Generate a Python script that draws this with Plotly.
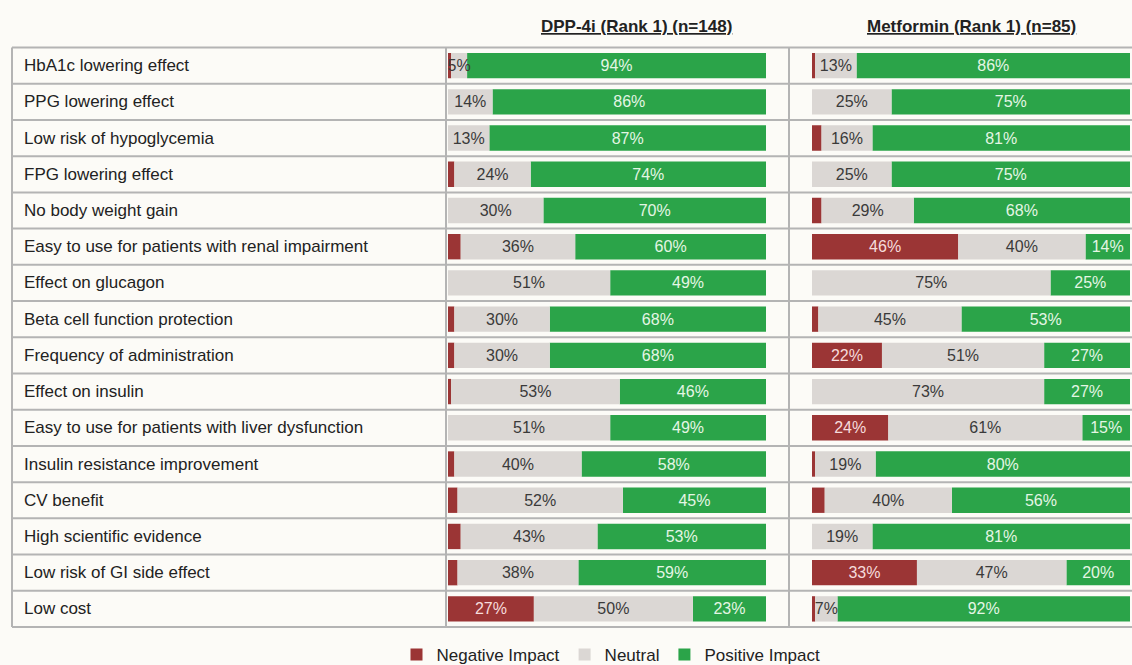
import plotly.graph_objects as go

W, H = 1132, 665

categories = [
    "HbA1c lowering effect",
    "PPG lowering effect",
    "Low risk of hypoglycemia",
    "FPG lowering effect",
    "No body weight gain",
    "Easy to use for patients with renal impairment",
    "Effect on glucagon",
    "Beta cell function protection",
    "Frequency of administration",
    "Effect on insulin",
    "Easy to use for patients with liver dysfunction",
    "Insulin resistance improvement",
    "CV benefit",
    "High scientific evidence",
    "Low risk of GI side effect",
    "Low cost",
]

dpp_negative = [1, 0, 0, 2, 0, 4, 0, 2, 2, 1, 0, 2, 3, 4, 3, 27]
dpp_neutral = [5, 14, 13, 24, 30, 36, 51, 30, 30, 53, 51, 40, 52, 43, 38, 50]
dpp_positive = [94, 86, 87, 74, 70, 60, 49, 68, 68, 46, 49, 58, 45, 53, 59, 23]

met_negative = [1, 0, 3, 0, 3, 46, 0, 2, 22, 0, 24, 1, 4, 0, 33, 1]
met_neutral = [13, 25, 16, 25, 29, 40, 75, 45, 51, 73, 61, 19, 40, 19, 47, 7]
met_positive = [86, 75, 81, 75, 68, 14, 25, 53, 27, 27, 15, 80, 56, 81, 20, 92]

panel_titles = ["DPP-4i (Rank 1) (n=148)", "Metformin (Rank 1) (n=85)"]
series_names = ["Negative Impact", "Neutral", "Positive Impact"]

colors = ["#9b3535", "#dbd7d4", "#2ba449"]
text_colors = ["#f6dcdc", "#3a3a3a", "#e4f6e4"]
bg = "#fcfbf7"
line_col = "#b4b4b4"
FONT = "Liberation Sans, Arial, sans-serif"

def px_x(x):
    return x / W

def px_y(y):
    return (H - y) / H

top_px, bot_px = 47.5, 627.0
n = len(categories)
row_h = (bot_px - top_px) / n

fig = go.Figure()

panels = [
    ("x", [dpp_negative, dpp_neutral, dpp_positive], True),
    ("x2", [met_negative, met_neutral, met_positive], False),
]
for xa, vals, show in panels:
    neg, neu, pos = vals
    bases = [
        [0] * len(neg),
        list(neg),
        [a + b for a, b in zip(neg, neu)],
    ]
    # draw order: negative, positive, neutral (so neutral labels sit on top)
    for idx in [0, 2, 1]:
        v = vals[idx]
        fig.add_trace(go.Bar(
            y=categories, x=v, base=bases[idx], orientation="h",
            name=series_names[idx],
            marker=dict(color=colors[idx], line=dict(width=0)),
            text=[f"{a}%" if a >= 5 else "" for a in v],
            textposition="inside", insidetextanchor="middle",
            constraintext="none", textangle=0,
            textfont=dict(color=text_colors[idx], size=16, family=FONT),
            xaxis=xa, yaxis="y", showlegend=show, legendgroup=series_names[idx],
            legendrank=idx + 1,
            width=0.7, hoverinfo="skip", cliponaxis=False,
        ))

shapes = []
for i in range(n + 1):
    yy = px_y(top_px + i * row_h)
    shapes.append(dict(type="line", xref="paper", yref="paper",
                       x0=px_x(12), x1=1.0, y0=yy, y1=yy,
                       line=dict(color=line_col, width=2), layer="below"))
for xv in [12, 446, 789]:
    shapes.append(dict(type="line", xref="paper", yref="paper",
                       x0=px_x(xv), x1=px_x(xv), y0=px_y(top_px), y1=px_y(bot_px),
                       line=dict(color=line_col, width=2), layer="below"))

annotations = []
for cat in categories:
    annotations.append(dict(x=px_x(22), xref="paper", y=cat, yref="y",
                            text=cat, showarrow=False, xanchor="left",
                            font=dict(size=17, color="#222222", family=FONT)))
for title, cx in zip(panel_titles, [636, 971]):
    annotations.append(dict(x=px_x(cx), xref="paper", y=px_y(26), yref="paper",
                            text=f"<b><u>{title}</u></b>", showarrow=False,
                            xanchor="center", yanchor="middle",
                            font=dict(size=17, color="#222222", family=FONT)))

fig.update_layout(
    width=W, height=H, autosize=False,
    margin=dict(l=0, r=0, t=0, b=0, pad=0, autoexpand=False),
    paper_bgcolor=bg, plot_bgcolor="rgba(0,0,0,0)",
    barmode="overlay",
    shapes=shapes, annotations=annotations,
    font=dict(family=FONT),
    xaxis=dict(domain=[px_x(448), px_x(766)], range=[0, 100], visible=False,
               fixedrange=True),
    xaxis2=dict(domain=[px_x(812), px_x(1130)], range=[0, 100], visible=False,
                anchor="y", fixedrange=True),
    yaxis=dict(domain=[px_y(bot_px), px_y(top_px)], autorange="reversed",
               visible=False, type="category"),
    legend=dict(orientation="h", x=px_x(611), xanchor="center",
                y=px_y(655), yanchor="middle",
                font=dict(size=17, color="#222222", family=FONT),
                bgcolor="rgba(0,0,0,0)", itemwidth=30, traceorder="normal"),
    showlegend=True,
)

fig.write_html(
    "out.html",
    config={"displayModeBar": False},
    post_script="document.body.style.margin='0';document.body.style.overflow='hidden';document.body.style.background='#fcfbf7';",
)
